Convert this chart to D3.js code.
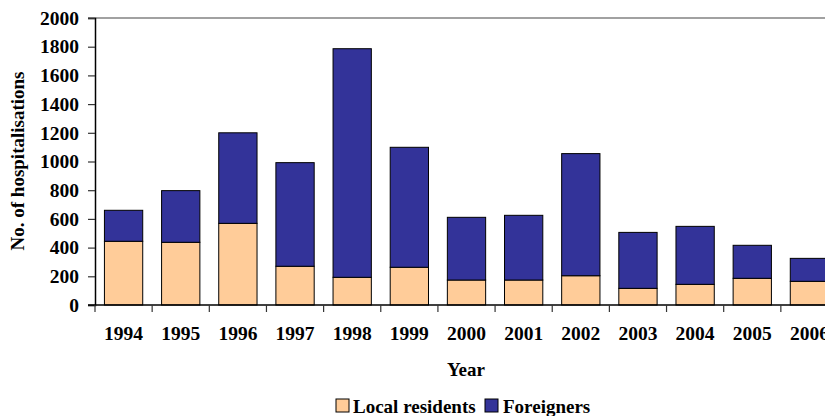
<!DOCTYPE html>
<html>
<head>
<meta charset="utf-8">
<script src="https://cdn.jsdelivr.net/npm/d3@7"></script>
<style>
  html, body { margin: 0; padding: 0; background: #fff; }
  svg { display: block; }
  text { font-family: "Liberation Serif", "Times New Roman", serif; font-weight: bold; fill: #000; }
</style>
</head>
<body>
<svg id="chart" width="825" height="416"></svg>
<script>
// Annual hospitalisations, split by residency
const years = ["1994","1995","1996","1997","1998","1999","2000","2001","2002","2003","2004","2005","2006"];
const localResidents = [444, 437, 569, 270, 193, 263, 174, 174, 204, 116, 144, 186, 165];
const foreigners     = [216, 360, 631, 722, 1593, 836, 437, 451, 851, 390, 404, 230, 160];
const yTicks = [0, 200, 400, 600, 800, 1000, 1200, 1400, 1600, 1800, 2000];
const seriesNames = ["Local residents", "Foreigners"];
const seriesColors = ["#FFCC99", "#333399"];

const svg = d3.select("#chart");
const plot = { left: 95, top: 18, bottom: 305, right: 838 };

const x = d3.scaleBand().domain(years).range([plot.left, plot.right]).paddingInner(0.33).paddingOuter(0.165);
const y = d3.scaleLinear().domain([0, 2000]).range([plot.bottom, plot.top]);

const rows = years.map((yr, i) => ({ year: yr, local: localResidents[i], foreign: foreigners[i] }));
const stacked = d3.stack().keys(["local", "foreign"])(rows);

// top boundary line of the plot area
svg.append("line")
  .attr("x1", plot.left - 7).attr("x2", 825)
  .attr("y1", y(2000)).attr("y2", y(2000))
  .attr("stroke", "#444").attr("stroke-width", 1.2);

// stacked bars
svg.append("g").selectAll("g").data(stacked).join("g")
  .attr("fill", (d, i) => seriesColors[i])
  .selectAll("rect").data(d => d).join("rect")
  .attr("x", d => x(d.data.year))
  .attr("width", x.bandwidth())
  .attr("y", d => y(d[1]))
  .attr("height", d => y(d[0]) - y(d[1]))
  .attr("stroke", "#000").attr("stroke-width", 1);

// y axis
const yAxis = svg.append("g").attr("transform", `translate(${plot.left},0)`)
  .call(d3.axisLeft(y).tickValues(yTicks).tickSize(7).tickPadding(9).tickFormat(d3.format("d")));
yAxis.select(".domain").attr("stroke", "#000").attr("stroke-width", 1.5);
yAxis.selectAll(".tick line").attr("stroke", "#333").attr("stroke-width", 1.2);
yAxis.selectAll("text").style("font-size", "19.5px").attr("fill", "#000");

// x axis: ticks on category boundaries
const xg = svg.append("g");
xg.append("line")
  .attr("x1", plot.left - 7).attr("x2", 825)
  .attr("y1", plot.bottom).attr("y2", plot.bottom)
  .attr("stroke", "#000").attr("stroke-width", 1.5);
const gap = (x.step() - x.bandwidth()) / 2;
xg.selectAll("line.tk").data(years).join("line").attr("class", "tk")
  .attr("x1", d => x(d) - gap)
  .attr("x2", d => x(d) - gap)
  .attr("y1", plot.bottom).attr("y2", plot.bottom + 7)
  .attr("stroke", "#333").attr("stroke-width", 1.2);
xg.selectAll("text").data(years).join("text")
  .attr("x", d => x(d) + x.bandwidth() / 2)
  .attr("y", 340)
  .attr("text-anchor", "middle")
  .style("font-size", "19.5px")
  .text(d => d);

// axis titles
svg.append("text")
  .attr("x", 466).attr("y", 376)
  .attr("text-anchor", "middle")
  .style("font-size", "19px")
  .text("Year");
svg.append("text")
  .attr("transform", `translate(24,161) rotate(-90)`)
  .attr("text-anchor", "middle")
  .style("font-size", "19px")
  .text("No. of hospitalisations");

// legend
const legend = svg.append("g");
const legendItems = [
  { name: seriesNames[0], color: seriesColors[0], sx: 336, tx: 353 },
  { name: seriesNames[1], color: seriesColors[1], sx: 485, tx: 503 }
];
legendItems.forEach(it => {
  legend.append("rect")
    .attr("x", it.sx).attr("y", 399).attr("width", 13).attr("height", 13)
    .attr("fill", it.color).attr("stroke", "#000").attr("stroke-width", 1);
  legend.append("text")
    .attr("x", it.tx).attr("y", 413)
    .style("font-size", "19px")
    .text(it.name);
});
</script>
</body>
</html>
